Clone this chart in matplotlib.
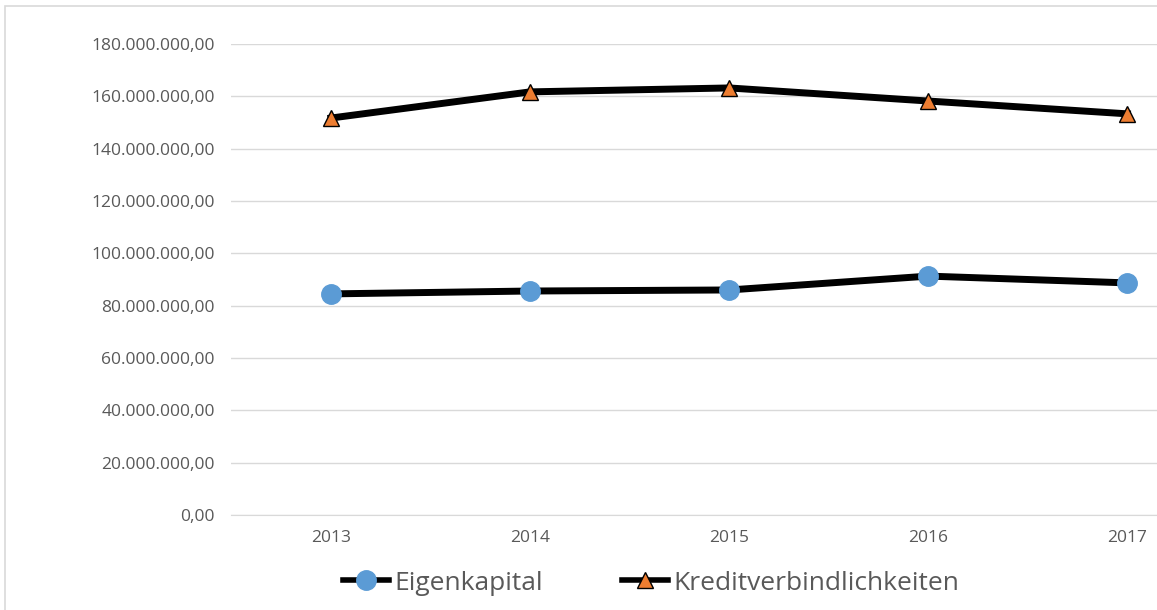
#!/usr/bin/env python3
# -*- coding: utf-8 -*-

import matplotlib
matplotlib.use('Agg')
import matplotlib.pyplot as plt
from matplotlib.patches import Rectangle
from matplotlib.ticker import FuncFormatter

years = ['2013', '2014', '2015', '2016', '2017']
eigenkapital = [84.5e6, 85.6e6, 86.0e6, 91.3e6, 88.7e6]
kredit = [151.7e6, 161.7e6, 163.2e6, 158.2e6, 153.3e6]
yticks = [0, 20e6, 40e6, 60e6, 80e6, 100e6, 120e6, 140e6, 160e6, 180e6]


def de_fmt(v, pos):
    s = f'{v:,.2f}'
    return s.replace(',', 'X').replace('.', ',').replace('X', '.')


def main():
    plt.rcParams['font.family'] = ['Open Sans', 'DejaVu Sans']
    fig = plt.figure(figsize=(11.57, 6.10), dpi=100)

    # outer chart border (partially cropped)
    fig.patches.append(Rectangle((5 / 1157, -0.01), 1.2, 1 - 6 / 610 + 0.01,
                                 transform=fig.transFigure, fill=False,
                                 edgecolor='#d9d9d9', lw=1.2))

    ax = fig.add_axes([0.2, 0.1557, 0.8605, 0.7722])
    x = range(len(years))
    ax.plot(x, eigenkapital, color='black', lw=5, marker='o', ms=14,
            markerfacecolor='#5b9bd5', markeredgecolor='#5b9bd5',
            label='Eigenkapital', zorder=3)
    ax.plot(x, kredit, color='black', lw=5, marker='^', ms=12,
            markerfacecolor='#ed7d31', markeredgecolor='black', mew=1,
            label='Kreditverbindlichkeiten', zorder=3)

    ax.set_xlim(-0.5, len(years) - 0.5)
    ax.set_ylim(0, 180e6)
    ax.set_yticks(yticks)
    ax.yaxis.set_major_formatter(FuncFormatter(de_fmt))
    ax.set_xticks(list(x))
    ax.set_xticklabels(years)
    ax.grid(axis='y', color='#d9d9d9', lw=1)
    ax.set_axisbelow(True)
    for s in ['top', 'right', 'left']:
        ax.spines[s].set_visible(False)
    ax.spines['bottom'].set_color('#d9d9d9')
    ax.tick_params(length=0, colors='#595959', labelsize=12.5)
    ax.tick_params(axis='y', pad=12)
    ax.tick_params(axis='x', pad=11)

    leg = fig.legend(loc='center', bbox_to_anchor=(651 / 1157, 1 - 583 / 610),
                     ncol=2, frameon=False, fontsize=19, labelcolor='#595959',
                     handlelength=1.75, handletextpad=0.2, columnspacing=3.0)
    for h in leg.legend_handles:
        h.set_linewidth(4)

    fig.savefig('out.png', dpi=100)


if __name__ == '__main__':
    main()
